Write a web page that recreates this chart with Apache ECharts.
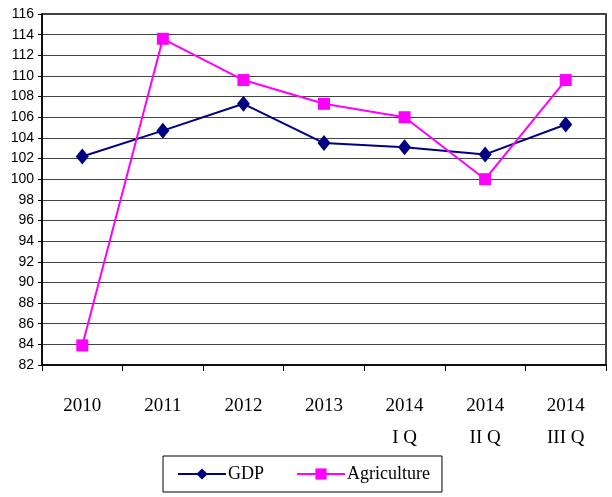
<!DOCTYPE html>
<html><head><meta charset="utf-8">
<script src="https://cdn.jsdelivr.net/npm/echarts@6/dist/echarts.min.js"></script>
<style>html,body{margin:0;padding:0;background:#fff}#c{width:612px;height:497px}</style>
</head><body><div id="c"></div>
<script>
const categories = ['2010', '2011', '2012', '2013', '2014\nI Q', '2014\nII Q', '2014\nIII Q'];
const gdp = [102.2, 104.7, 107.3, 103.5, 103.1, 102.4, 105.3];
const agriculture = [83.9, 113.6, 109.6, 107.3, 106.0, 100.0, 109.6];
const yMin = 82, yMax = 116, yStep = 2;

const chart = echarts.init(document.getElementById('c'), null, {renderer: 'canvas'});
chart.setOption({
  animation: false,
  backgroundColor: '#fff',
  grid: {left: 42, right: 6, top: 14, bottom: 132, containLabel: false,
         show: true, borderColor: '#000', borderWidth: 1.5, backgroundColor: 'transparent'},
  xAxis: {
    type: 'category', data: categories, boundaryGap: true,
    axisLine: {lineStyle: {color: '#000', width: 1.5}},
    axisTick: {show: true, length: 6, lineStyle: {color: '#000'}},
    axisLabel: {margin: 25, color: '#000', fontFamily: 'Liberation Serif', fontSize: 19, lineHeight: 32, interval: 0},
    splitLine: {show: false}
  },
  yAxis: {
    type: 'value', min: yMin, max: yMax, interval: yStep,
    axisLine: {show: true, lineStyle: {color: '#000', width: 1.5}},
    axisTick: {show: true, length: 4, lineStyle: {color: '#000'}},
    axisLabel: {margin: 8, color: '#000', fontFamily: 'Liberation Sans', fontSize: 14},
    splitLine: {show: true, lineStyle: {color: '#444', width: 1}}
  },
  legend: {
    left: 163, top: 456,
    data: ['GDP', 'Agriculture'],
    borderColor: '#000', borderWidth: 1,
    padding: [9, 12, 9, 14], itemGap: 32,
    itemWidth: 48, itemHeight: 14,
    textStyle: {fontFamily: 'Liberation Serif', fontSize: 18, color: '#000', padding: [0, 0, 0, -3]}
  },
  series: [
    {
      name: 'GDP', type: 'line', data: gdp,
      symbol: 'diamond', symbolSize: [13, 16],
      lineStyle: {color: '#000080', width: 2},
      itemStyle: {color: '#000080'}
    },
    {
      name: 'Agriculture', type: 'line', data: agriculture,
      symbol: 'rect', symbolSize: 12,
      lineStyle: {color: '#ff00ff', width: 2},
      itemStyle: {color: '#ff00ff'}
    }
  ]
});
</script></body></html>
